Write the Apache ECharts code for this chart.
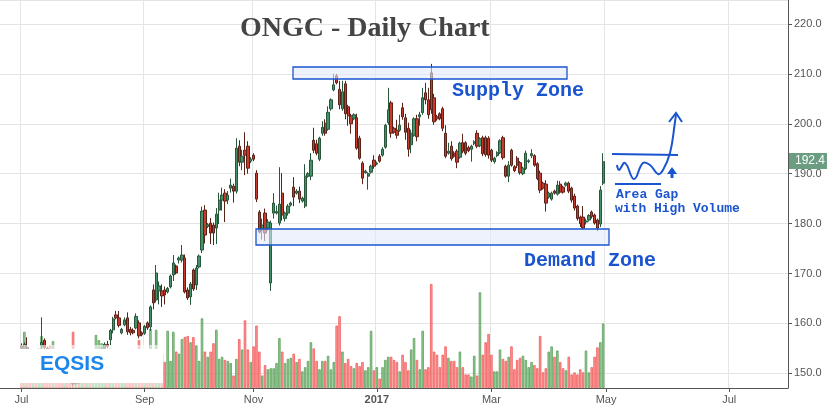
<!DOCTYPE html>
<html><head><meta charset="utf-8">
<script src="https://cdn.jsdelivr.net/npm/echarts@6/dist/echarts.min.js"></script>
<style>html,body{margin:0;padding:0;background:#fff}#c{width:828px;height:410px}</style>
</head><body><div id="c"></div>
<script>
// ---- data ----
const startDate = '2016-06-22';
const endDate = '2017-07-31';
const holidays = ['2016-08-15','2016-09-05','2016-09-13','2016-10-11','2016-10-12','2016-10-31','2016-11-14','2017-01-26','2017-02-24','2017-03-13','2017-04-04','2017-04-14','2017-05-01','2017-06-26'];
const firstCandleDate = '2016-07-01';
const monthLabels = {'0':'{y|2017}','2':'Mar','4':'May','6':'Jul','8':'Sep','10':'Nov'};
const lastPrice = 192.4;
// [open, close, low, high]
const candles = [
[155.5,155.0,154.6,156.0],[155.0,155.8,154.7,156.2],[155.2,154.2,153.8,157.2],[154.2,153.5,153.0,154.6],[153.4,154.0,153.0,154.4],
[154.0,153.0,152.6,154.3],[153.0,154.5,152.8,155.0],[155.6,156.2,154.9,161.2],[156.6,155.2,154.9,157.0],[155.0,153.6,153.2,155.3],
[153.6,152.0,151.6,153.9],[152.0,153.4,151.7,153.8],[153.2,152.4,152.0,153.6],[152.4,151.2,150.8,152.7],[151.2,150.2,149.6,151.5],
[150.3,151.0,149.9,151.4],[151.0,150.0,149.5,151.3],[150.0,149.2,148.7,150.3],[149.4,147.9,147.4,149.6],[148.0,148.8,147.6,149.2],
[148.8,148.2,147.8,149.3],[148.2,149.5,148.0,149.8],[149.5,148.6,148.2,149.9],[148.6,149.8,148.3,150.2],[149.8,149.2,148.8,150.4],
[149.3,150.8,149.0,151.2],[150.8,152.6,150.5,153.0],[152.6,153.8,152.2,154.3],[153.8,154.8,153.5,155.2],[155.0,155.8,154.5,156.2],
[155.8,155.4,155.0,156.5],[156.7,158.6,155.6,158.9],[158.7,160.9,158.0,161.3],[161.7,161.1,160.8,162.5],[161.1,159.6,159.2,162.5],
[158.1,158.8,157.8,159.1],[159.7,160.7,159.4,161.2],[161.1,158.3,157.7,162.2],[158.8,158.1,157.6,159.3],[158.6,158.1,157.8,159.0],
[159.1,161.4,158.8,162.0],[160.1,157.5,157.0,160.6],[158.1,157.7,157.4,158.4],[158.0,159.4,157.7,159.7],[160.1,159.1,158.7,160.4],
[159.3,163.3,158.5,163.6],[166.7,164.1,162.8,167.8],[164.7,170.1,164.2,171.7],[166.5,167.5,163.8,168.4],[166.5,165.5,163.3,167.8],
[166.7,165.7,163.8,167.4],[166.3,167.0,166.0,167.3],[167.3,169.5,167.0,169.8],[169.7,172.1,168.5,173.7],[171.5,170.1,169.8,171.8],
[172.7,173.1,172.0,173.4],[172.7,173.7,172.2,175.7],[173.1,166.3,166.0,173.8],[166.7,165.1,164.7,167.2],[165.3,167.9,163.7,168.3],
[170.7,166.9,166.5,171.0],[167.7,171.1,166.7,171.7],[171.3,173.5,171.0,173.8],[174.7,182.5,174.1,183.4],[182.7,177.7,176.0,183.7],
[179.4,179.8,179.1,180.1],[180.1,178.1,175.9,181.1],[179.7,178.1,175.7,180.2],[179.1,181.9,175.9,183.1],[182.7,184.7,179.9,186.2],
[184.7,185.7,182.6,187.2],[186.1,184.5,180.3,186.9],[184.7,185.7,183.9,186.5],[187.1,187.7,186.2,189.0],[187.5,186.5,184.2,188.0],
[186.5,195.1,186.0,197.1],[195.5,192.3,191.5,196.7],[192.3,193.5,190.7,194.8],[194.7,193.7,189.7,198.3],[195.5,191.1,190.0,196.5],
[192.5,192.9,192.1,193.3],[193.7,192.9,192.5,194.1],[190.1,184.9,184.3,190.7],[182.3,178.3,178.0,182.7],[178.7,179.7,176.8,181.0],
[182.1,178.1,176.5,183.0],[179.1,180.3,178.6,180.9],[168.1,180.1,166.5,180.6],[182.1,184.1,181.0,186.1],[182.1,182.4,181.8,183.6],
[180.1,183.9,179.6,191.3],[186.1,181.7,180.6,190.1],[181.0,182.1,180.4,182.4],[182.1,183.5,181.6,183.9],[183.7,184.1,183.4,184.4],
[187.3,185.3,183.5,189.3],[186.1,186.5,185.8,186.9],[186.5,184.9,184.1,187.4],[184.5,185.1,184.2,185.4],[183.5,189.5,183.1,191.9],
[189.5,190.0,189.2,190.3],[189.5,192.7,188.7,194.1],[196.7,194.7,194.1,199.2],[196.0,194.1,193.7,196.8],[192.9,197.1,192.5,197.4],
[198.1,199.3,197.6,200.5],[200.1,198.1,197.6,200.9],[198.9,202.3,198.6,203.5],[203.0,204.8,202.6,205.1],[206.8,207.8,206.5,210.0],
[209.6,208.2,207.9,210.0],[206.9,203.8,202.9,208.6],[203.0,206.4,202.6,208.6],[208.0,202.0,200.9,208.6],[203.4,201.6,199.6,203.8],
[201.6,200.0,198.0,202.0],[201.0,201.8,200.7,202.1],[201.2,195.1,194.8,202.0],[197.1,193.1,192.8,197.6],[192.1,189.1,187.9,192.5],
[190.2,190.5,190.0,190.8],[189.5,190.0,186.8,190.3],[190.3,191.5,190.0,191.8],[192.7,191.5,191.0,193.7],[191.9,192.1,191.7,192.4],
[193.5,192.5,192.2,193.9],[193.7,194.9,193.4,195.3],[195.3,199.7,195.0,200.0],[200.2,202.8,199.8,207.2],[204.2,198.1,197.2,204.6],
[199.1,198.3,198.0,199.4],[198.7,197.7,197.0,200.8],[198.7,199.7,198.4,201.8],[203.2,201.4,200.8,204.2],[201.2,198.3,196.8,202.0],
[199.1,194.9,193.4,200.2],[195.8,198.1,194.1,198.8],[197.7,201.0,197.4,201.3],[201.0,197.4,196.5,201.8],[201.4,201.8,199.6,202.4],
[202.2,205.2,201.8,207.2],[206.2,204.8,203.9,208.2],[204.8,201.8,201.0,207.2],[210.2,202.8,202.0,212.0],[205.2,200.4,199.8,206.0],
[201.4,201.0,200.6,201.8],[202.0,201.0,200.7,202.3],[203.0,199.1,198.5,203.4],[198.1,193.5,193.1,199.7],[194.1,194.5,193.8,196.2],
[195.5,193.0,192.6,196.5],[194.1,193.5,193.2,194.5],[194.5,192.3,191.1,194.9],[193.3,196.1,193.0,196.4],[196.2,194.5,194.1,198.0],
[196.2,194.1,193.7,196.5],[195.2,194.6,194.3,195.6],[194.9,195.5,192.4,195.8],[196.0,196.4,195.7,196.7],[198.1,195.5,195.1,198.7],
[195.6,197.0,195.3,197.3],[197.2,194.0,193.5,197.6],[197.2,193.8,193.4,197.6],[197.1,193.7,193.0,197.5],[194.7,192.7,192.3,195.0],
[192.4,193.1,192.0,193.4],[193.6,194.2,193.3,194.5],[194.2,196.6,193.9,196.9],[197.2,193.2,192.8,197.6],[191.5,189.5,189.2,191.8],
[189.5,191.7,188.3,192.5],[194.7,191.7,191.4,195.0],[191.4,190.6,190.3,191.7],[193.1,191.7,191.1,193.5],[192.2,190.2,189.8,192.5],
[190.0,191.1,189.7,191.4],[191.0,194.1,190.7,194.6],[192.4,192.6,192.1,192.9],[193.6,194.0,193.1,194.9],[193.6,191.7,191.4,193.9],
[192.0,189.0,188.7,192.3],[190.1,186.7,186.1,190.6],[188.1,187.1,186.8,188.4],[187.9,184.1,182.4,188.7],[185.3,186.1,185.0,186.4],
[184.9,186.1,184.6,186.4],[186.5,186.1,185.8,186.8],[185.9,187.7,185.6,188.6],[187.9,186.3,186.0,188.5],[187.3,186.3,186.0,187.6],
[187.7,188.1,187.4,188.4],[188.1,186.5,186.1,188.4],[187.1,184.7,184.2,187.4],[185.5,183.1,182.6,186.0],[183.5,181.0,180.6,183.8],
[181.3,180.0,179.3,181.6],[181.3,179.1,178.8,183.5],[180.3,180.5,179.8,181.0],[180.7,181.6,180.4,181.9],[182.3,181.4,181.0,182.6],
[181.7,180.1,179.8,182.0],[180.7,179.1,178.5,181.0],[179.9,186.7,179.3,187.5],[188.1,192.4,187.7,194.1]
];
const volumes = [
30,54,35,28,25,30,32,50,38,30, 41,45,30,28,25,30,32,28,54,30,
28,25,30,22,28,30,51,46,43,41, 35,38,30,28,32,30,28,30,30,32,
30,46,28,30,32,57,30,56,35,33, 25,55,26,54,35,33,47,49,50,44,
49,41,26,67,35,30,35,43,56,28, 30,27,26,24,12,28,47,37,65,37,
25,40,60,35,12,22,18,19,19,24, 48,35,24,28,29,33,25,28,16,20,
26,44,38,26,18,26,26,31,18,25, 60,69,35,24,28,21,19,24,21,25,
17,20,55,17,20,9,20,27,30,30, 27,25,16,32,25,17,37,48,27,18,
55,18,20,100,35,32,20,32,40,29, 26,26,20,35,20,13,13,11,31,12,
92,32,44,52,32,16,16,37,28,26, 30,40,18,27,29,31,27,20,25,22,
19,50,15,19,35,40,30,36,25,19, 17,30,13,15,13,18,15,36,15,20,
30,39,44,62
];

// ---- build trading-day categories ----
function fmt(d){return d.toISOString().slice(0,10);}
const dates = [];
for (let d = new Date(startDate+'T00:00:00Z'); d <= new Date(endDate+'T00:00:00Z'); d.setUTCDate(d.getUTCDate()+1)) {
  const wd = d.getUTCDay(); const s = fmt(d);
  if (wd === 0 || wd === 6 || holidays.includes(s)) continue;
  dates.push(s);
}
const offset = dates.indexOf(firstCandleDate);
const labelIdx = new Set();
for (let i = 1; i < dates.length; i++) {
  const m = +dates[i].slice(5,7) - 1, pm = +dates[i-1].slice(5,7) - 1;
  if (m !== pm && monthLabels[String(m)] !== undefined) labelIdx.add(i);
}
const showIdx = (i) => labelIdx.has(i);

const candleData = candles.map((c, k) => [k + offset, c[0], c[1], c[2], c[3]]);
const volData = volumes.map((v, k) => {
  const up = candles[k][1] >= candles[k][0];
  return { value: [k + offset, v], itemStyle: up
    ? { color: 'rgba(120,192,120,0.82)', borderColor: '#5d9f5d', borderWidth: 0.8 }
    : { color: 'rgba(255,128,128,0.82)', borderColor: '#f05a5a', borderWidth: 0.8 } };
});

const blue = '#1a55cf';
const chart = echarts.init(document.getElementById('c'), null, { renderer: 'canvas' });
chart.setOption({
  animation: false,
  grid: { left: 0, right: 40, top: 0, bottom: 22 },
  xAxis: {
    type: 'category', data: dates, boundaryGap: true,
    axisLine: { lineStyle: { color: '#555', width: 1 } },
    axisTick: { show: true, alignWithLabel: true, interval: showIdx, length: 4, lineStyle: { color: '#555' } },
    axisLabel: { interval: showIdx, color: '#555', fontSize: 11, fontFamily: 'Liberation Sans, Arial', margin: 6,
      formatter: (v) => monthLabels[String(+v.slice(5,7) - 1)],
      rich: { y: { fontWeight: 'bold', color: '#555', fontSize: 11, fontFamily: 'Liberation Sans, Arial' } } },
    splitLine: { show: true, interval: showIdx, lineStyle: { color: '#e4e4e4' } }
  },
  yAxis: [{
    type: 'value', position: 'right', min: 147.05, max: 224.8, splitNumber: 8, scale: true,
    axisLine: { show: true, lineStyle: { color: '#555' } },
    axisTick: { show: true, length: 4, lineStyle: { color: '#555' } },
    axisLabel: { color: '#555', fontSize: 11, fontFamily: 'Liberation Sans, Arial', margin: 6,
      showMinLabel: false, showMaxLabel: false, formatter: (v) => v.toFixed(1) },
    splitLine: { lineStyle: { color: '#e4e4e4' } }
  }, {
    type: 'value', min: 0, max: 373, show: false
  }],
  series: [{
    type: 'bar', yAxisIndex: 1, data: volData, barWidth: '86%', z: 1
  }, {
    type: 'candlestick', data: candleData, encode: { x: 0, y: [1, 2, 3, 4] }, barWidth: 2.8, z: 3,
    itemStyle: { color: '#44916a', color0: '#c83b2c', borderColor: '#27563a', borderColor0: '#5a2218', borderWidth: 1 }
  }],
  graphic: [
    { type: 'rect', z: 50, shape: { x: 0, y: 345, width: 163, height: 4 }, style: { fill: 'rgba(255,255,255,0.6)' } },
    { type: 'rect', z: 50, shape: { x: 0, y: 349, width: 163, height: 34 }, style: { fill: '#ffffff' } },
    { type: 'rect', z: 50, shape: { x: 0, y: 383, width: 163, height: 4.5 }, style: { fill: 'rgba(255,255,255,0.6)' } },
    { type: 'text', z: 51, x: 40, y: 364, style: { text: 'EQSIS', font: 'bold 21px "Liberation Sans", Arial', fill: '#1c86ee', verticalAlign: 'middle', textVerticalAlign: 'middle' } },
    { type: 'text', z: 51, x: 240, y: 29, style: { text: 'ONGC - Daily Chart', font: 'bold 28px "Liberation Serif", "Times New Roman"', fill: '#444', verticalAlign: 'middle', textVerticalAlign: 'middle' } },
    { type: 'rect', z: 40, shape: { x: 293, y: 67, width: 274, height: 12 }, style: { fill: 'rgba(226,234,250,0.6)', stroke: blue, lineWidth: 1.3 } },
    { type: 'rect', z: 40, shape: { x: 256, y: 229, width: 353, height: 16 }, style: { fill: 'rgba(226,234,250,0.6)', stroke: blue, lineWidth: 1.3 } },
    { type: 'text', z: 51, x: 452, y: 91, style: { text: 'Supply Zone', font: 'bold 20px "Liberation Mono", "Courier New", monospace', fill: blue, verticalAlign: 'middle', textVerticalAlign: 'middle' } },
    { type: 'text', z: 51, x: 524, y: 261, style: { text: 'Demand Zone', font: 'bold 20px "Liberation Mono", "Courier New", monospace', fill: blue, verticalAlign: 'middle', textVerticalAlign: 'middle' } },
    { type: 'text', z: 51, x: 616, y: 195, style: { text: 'Area Gap', font: 'bold 13px "Liberation Mono", "Courier New", monospace', fill: blue, verticalAlign: 'middle', textVerticalAlign: 'middle' } },
    { type: 'text', z: 51, x: 615, y: 209, style: { text: 'with High Volume', font: 'bold 13px "Liberation Mono", "Courier New", monospace', fill: blue, verticalAlign: 'middle', textVerticalAlign: 'middle' } },
    { type: 'line', z: 51, shape: { x1: 612, y1: 154, x2: 678, y2: 155 }, style: { stroke: blue, lineWidth: 2 } },
    { type: 'line', z: 51, shape: { x1: 615, y1: 184, x2: 661, y2: 184 }, style: { stroke: blue, lineWidth: 2 } },
    { type: 'polyline', z: 51, shape: { smooth: 0.45, points: [[617,165],[619,170],[625,163],[634,179],[643,163],[650,165],[658,174],[663,170],[670,153],[675,122],[676,114]] }, style: { stroke: blue, lineWidth: 2, fill: null } },
    { type: 'polyline', z: 51, shape: { points: [[669,122],[676,113],[682,122]] }, style: { stroke: blue, lineWidth: 2, fill: null } },
    { type: 'line', z: 51, shape: { x1: 672, y1: 178, x2: 672, y2: 169 }, style: { stroke: blue, lineWidth: 3 } },
    { type: 'polygon', z: 51, shape: { points: [[667,174],[672,167],[677,174]] }, style: { fill: blue } },
    { type: 'rect', z: 60, shape: { x: 789, y: 153, width: 38, height: 16 }, style: { fill: '#6b9e80' } },
    { type: 'text', z: 61, x: 795, y: 161, style: { text: lastPrice.toFixed(1), font: '12px "Liberation Sans", Arial', fill: '#ffffff', verticalAlign: 'middle', textVerticalAlign: 'middle' } }
  ]
});
</script>
</body></html>
